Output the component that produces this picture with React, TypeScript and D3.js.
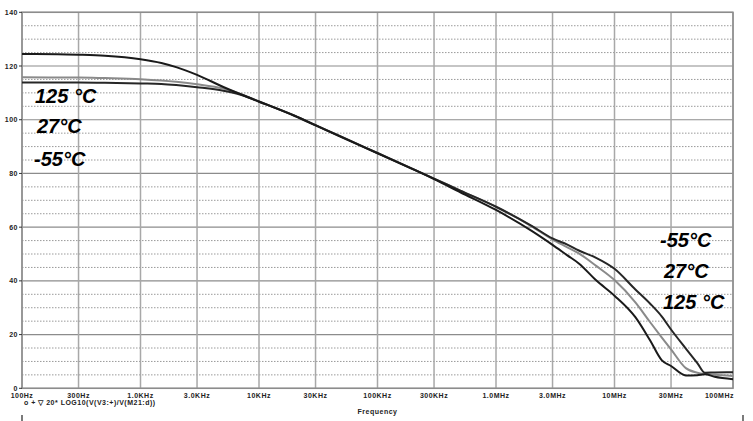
import React from "react";
import * as d3 from "d3";

const freqs = [100, 200, 300, 500, 1e3, 1.5e3, 2e3, 3e3, 5e3, 7e3, 1e4, 2e4, 3e4, 5e4, 1e5, 2e5, 3e5, 5e5, 1e6, 2e6, 3e6, 4e6, 5e6, 7e6, 1e7, 1.5e7, 2e7, 2.5e7, 3e7, 4e7, 5e7, 5.8e7, 7e7, 1e8];
const gain125 = [124.5, 124.4, 124.2, 123.8, 122.5, 121.1, 119.6, 116.7, 112.2, 109.5, 106.8, 101.4, 97.9, 93.4, 87.5, 81.5, 77.9, 73.0, 66.4, 58.6, 53.4, 49.5, 46.5, 40.2, 34.5, 26.5, 17.8, 10.5, 8.3, 4.8, 4.9, 5.2, 4.3, 3.4];
const gain27 = [115.8, 115.7, 115.7, 115.5, 115.1, 114.6, 114.1, 113.2, 111.6, 109.6, 106.8, 101.5, 98.0, 93.6, 87.6, 81.6, 78.1, 73.6, 67.6, 60.3, 55.4, 52.5, 50.2, 45.6, 40.3, 32.0, 24.6, 19.0, 14.5, 7.5, 5.8, 5.3, 5.0, 4.6];
const gainM55 = [113.9, 113.9, 113.9, 113.8, 113.5, 113.3, 112.9, 112.1, 110.8, 109.3, 106.7, 101.5, 98.0, 93.6, 87.6, 81.6, 78.1, 73.6, 67.6, 60.5, 55.8, 53.5, 51.3, 48.6, 44.5, 36.8, 31.5, 26.8, 21.9, 14.8, 9.4, 5.8, 5.9, 6.0];

const xTickValues = [100, 300, 1e3, 3e3, 1e4, 3e4, 1e5, 3e5, 1e6, 3e6, 1e7, 3e7, 1e8];
const xTickLabels = ["100Hz", "300Hz", "1.0KHz", "3.0KHz", "10KHz", "30KHz", "100KHz", "300KHz", "1.0MHz", "3.0MHz", "10MHz", "30MHz", "100MHz"];
const yTickValues = [0, 20, 40, 60, 80, 100, 120, 140];
const yMinorValues = d3.range(5, 140, 5).filter((v) => v % 20 !== 0);

const leftLabels = ["125 °C", "27°C", "-55°C"];
const rightLabels = ["-55°C", "27°C", "125 °C"];
const traceLegend = "o + \u25BD 20* LOG10(V(V3:+)/V(M21:d))";
const xTitle = "Frequency";

const W = 753;
const H = 421;
const L = 22;
const R = 733;
const T = 12.3;
const B = 388.3;

export default function App() {
  const x = d3.scaleLog().domain([100, 1e8]).range([L, R]);
  const y = d3.scaleLinear().domain([0, 140]).range([B, T]);
  const line = d3
    .line<number>()
    .x((_, i) => x(freqs[i]))
    .y((d) => y(d))
    .curve(d3.curveMonotoneX);

  const series = [
    { data: gain27, color: "#8a8a8a" },
    { data: gainM55, color: "#262626" },
    { data: gain125, color: "#1a1a1a" },
  ];

  const tickFont = { fontFamily: "Liberation Sans, Arial, sans-serif", fontWeight: 700, fontSize: 7, letterSpacing: 0.5 } as const;
  const bigFont = { fontFamily: "Liberation Sans, Arial, sans-serif", fontWeight: 700, fontStyle: "italic", fontSize: 20 } as const;

  return (
    <svg width={W} height={H} style={{ position: "absolute", left: 0, top: 0, background: "#fff" }}>
      <rect x={0} y={0} width={W} height={H} fill="#fff" />
      {yMinorValues.map((v) => (
        <line key={"m" + v} x1={L} x2={R} y1={y(v)} y2={y(v)} stroke="#9a9a9a" strokeWidth={1} strokeDasharray="1.5,1.5" />
      ))}
      {yTickValues.map((v) => (
        <line key={"h" + v} x1={L} x2={R} y1={y(v)} y2={y(v)} stroke="#8c8c8c" strokeWidth={1.2} />
      ))}
      {xTickValues.map((v) => (
        <line key={"v" + v} x1={x(v)} x2={x(v)} y1={T} y2={B} stroke="#a8a8a8" strokeWidth={1.5} />
      ))}
      <rect x={L} y={T} width={R - L} height={B - T} fill="none" stroke="#8c8c8c" strokeWidth={1.5} />
      {yTickValues.map((v) => (
        <g key={"yt" + v}>
          <line x1={L - 3} x2={L} y1={y(v)} y2={y(v)} stroke="#333" strokeWidth={1} />
          <text x={L - 4} y={y(v) + 2.5} textAnchor="end" fill="#222" {...tickFont}>
            {v}
          </text>
        </g>
      ))}
      {xTickValues.map((v, i) => (
        <text
          key={"xt" + v}
          x={i === xTickValues.length - 1 ? R + 1 : x(v)}
          y={398}
          textAnchor={i === xTickValues.length - 1 ? "end" : "middle"}
          fill="#222"
          {...tickFont}
        >
          {xTickLabels[i]}
        </text>
      ))}
      <text x={24} y={405} fill="#222" {...tickFont}>
        {traceLegend}
      </text>
      <text x={x(1e5)} y={414} textAnchor="middle" fill="#222" {...tickFont}>
        {xTitle}
      </text>
      <line x1={22} x2={22} y1={415} y2={421} stroke="#222" strokeWidth={1.2} />
      <line x1={743} x2={743} y1={415} y2={421} stroke="#222" strokeWidth={1.2} />
      {series.map((s, i) => (
        <path key={"s" + i} d={line(s.data) || ""} fill="none" stroke={s.color} strokeWidth={2} strokeLinejoin="round" />
      ))}
      {leftLabels.map((t, i) => (
        <text key={"ll" + i} x={[35, 37, 34][i]} y={[103, 133, 166][i]} fill="#000" {...bigFont}>
          {t}
        </text>
      ))}
      {rightLabels.map((t, i) => (
        <text key={"rl" + i} x={[660, 664, 663][i]} y={[247, 278, 309][i]} fill="#000" {...bigFont}>
          {t}
        </text>
      ))}
    </svg>
  );
}
